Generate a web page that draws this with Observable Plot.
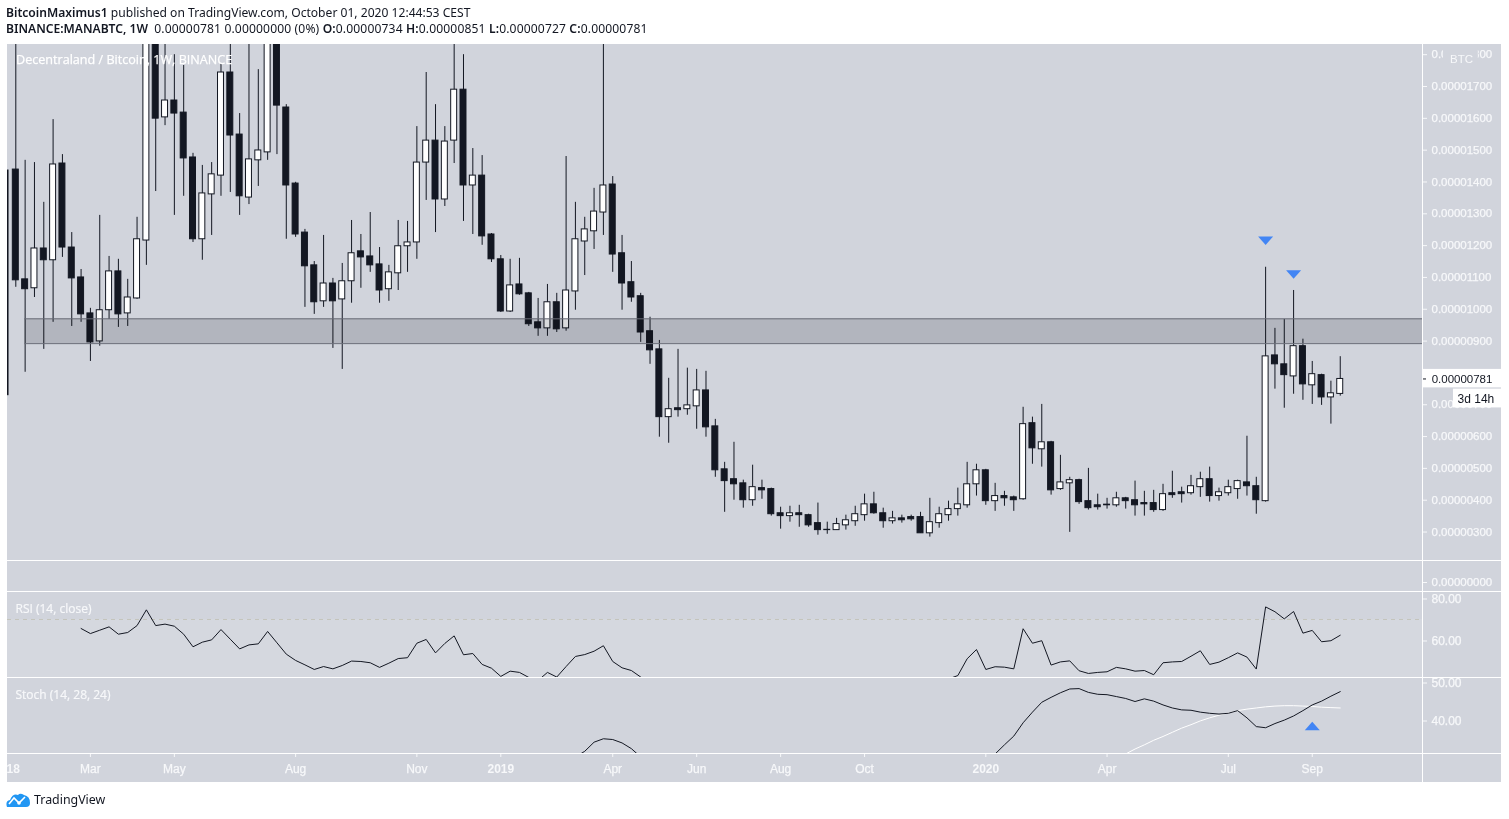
<!DOCTYPE html>
<html><head><meta charset="utf-8">
<script src="https://cdn.jsdelivr.net/npm/d3@7"></script>
<script src="https://cdn.jsdelivr.net/npm/@observablehq/plot@0.6"></script>
<style>
html,body{margin:0;padding:0;background:#fff;width:1509px;height:819px;overflow:hidden}
#hdr{position:absolute;left:6px;top:0;height:44px;font:12.1px/16px "Noto Sans",sans-serif;color:#131722;white-space:pre;padding-top:5px;box-sizing:border-box}
#hdr b{font-weight:600}
#hdr span{letter-spacing:.14px}
#chart{position:absolute;left:7px;top:44px;width:1494px;height:738px;background:#d1d4dc;overflow:hidden}
#chart svg{display:block}
.hl{position:absolute;left:0;width:1494px;height:1px;background:#fff}
.vl{position:absolute;left:1415px;top:0;width:1px;height:738px;background:#fff}
#foot{position:absolute;left:6px;top:791px;display:flex;align-items:center;gap:3px;font:12.4px "Noto Sans",sans-serif;color:#131722}
</style></head><body>
<div id="hdr"><b>BitcoinMaximus1</b> published on TradingView.com, October 01, 2020 12:44:53 CEST
<b>BINANCE:MANABTC, 1W</b>  <span>0.00000781 0.00000000 (0%) <b>O:</b>0.00000734 <b>H:</b>0.00000851 <b>L:</b>0.00000727 <b>C:</b>0.00000781</span></div>
<div id="chart"></div>
<div id="foot"><svg width="25" height="15" viewBox="0 0 25 15"><path d="M1 15 Q-1 9 4 8 Q7 1 12 3 Q14 0.5 18 3 Q24 4 24 11 Q24 15 20 15 Z" fill="#2196f3"/><path d="M3 12 L8 6 L13 11 L19 5" fill="none" stroke="#fff" stroke-width="1.6"/><circle cx="13" cy="11" r="1.8" fill="#fff"/></svg><span>TradingView</span></div>
<script>
// candle values in satoshi (1e-8 BTC), weekly, first entry is the bar clipped at the left edge
const clippedBarIndex = -1.1;
const open = [1436,1439,1094,1066,1191,1154,1458,1194,1100,987,899,997,1119,987,1034,1216,1876,1603,1656,1618,1477,1220,1361,1420,1744,1549,1351,1468,1493,1876,1634,1395,1241,1138,1025,1081,1031,1088,1182,1166,1141,1063,1113,1198,1210,1461,1530,1345,1530,1690,1389,1420,1235,1157,993,1078,1050,959,940,1022,940,1056,1213,1245,1304,1392,1176,1085,1041,931,874,661,689,686,695,745,632,497,466,453,400,438,435,359,350,359,353,328,307,306,321,334,353,387,359,334,343,347,347,296,328,353,372,384,450,494,397,413,409,403,642,560,582,435,453,463,397,384,386,384,406,400,391,391,369,422,425,422,441,466,413,422,435,456,444,397,855,827,789,884,761,793,723,734];
const high = [1436,1876,1468,1461,1336,1596,1486,1241,1125,1003,1295,1166,1157,1094,1289,1939,1939,1844,1800,1766,1490,1452,1461,1772,1907,1615,1907,1753,1907,1907,1643,1399,1251,1150,1232,1097,1144,1279,1235,1304,1194,1138,1279,1276,1574,1744,1643,1574,1876,1800,1505,1483,1238,1169,1157,1160,1053,1034,1078,1050,1480,1336,1289,1380,1907,1417,1232,1150,1050,975,902,783,874,815,811,805,654,519,582,463,510,463,438,378,381,384,356,391,331,343,353,381,419,425,375,365,353,353,362,406,378,397,438,519,513,497,453,428,413,692,661,701,585,541,472,466,500,419,406,425,409,460,428,431,450,491,441,478,488,504,438,463,463,601,472,1132,940,968,1059,906,836,796,774,851];
const low = [730,1069,802,1037,874,959,1163,946,959,836,884,968,943,946,1031,1138,1370,1577,1295,1355,1210,1154,1232,1355,1367,1295,1329,1386,1468,1486,1220,1226,1006,984,1006,877,811,1019,1066,1116,1019,1025,1059,1116,1157,1342,1241,1323,1458,1276,1235,1201,1147,990,990,1044,946,915,915,927,931,997,1106,1188,1232,1116,997,1022,896,827,598,579,661,667,623,598,472,362,400,375,381,403,350,309,331,315,315,290,293,306,306,318,334,356,312,325,328,334,296,284,312,334,350,375,413,384,365,381,365,400,513,504,416,431,299,387,369,369,372,378,372,350,350,362,365,406,391,416,409,394,397,413,403,413,356,394,749,689,733,714,701,698,639,727];
const close = [730,1091,1063,1191,1154,1455,1194,1097,984,896,997,1119,984,1037,1220,1876,1599,1656,1615,1474,1220,1364,1424,1744,1546,1355,1471,1499,1876,1640,1389,1235,1135,1022,1081,1025,1088,1176,1163,1138,1059,1116,1198,1210,1461,1530,1345,1527,1690,1389,1420,1229,1157,993,1075,1047,953,940,1022,937,1059,1220,1251,1307,1389,1172,1081,1037,927,871,661,686,683,698,745,629,494,460,450,400,441,431,356,350,359,353,321,306,306,325,337,356,387,359,334,343,337,340,296,331,356,372,387,450,494,397,413,406,400,639,563,582,431,456,463,394,375,378,384,406,397,384,387,369,419,416,419,444,466,413,425,441,460,444,400,852,827,793,884,764,796,723,736,781];

const resistanceZone = [892, 970];
const priceTicks = [300,400,500,600,700,800,900,1000,1100,1200,1300,1400,1500,1600,1700,1800];
const lastPrice = 781;

// RSI, visible stretches (start index given)
const rsiA0 = 7;
const rsiA = [65.7,63.3,64.9,66.5,63.0,63.8,67.1,74.6,67.1,67.8,66.8,63.0,57.0,59.2,60.3,65.2,60.6,56.0,57.9,58.4,64.3,58.9,53.5,50.5,48.4,46.2,47.6,46.5,48.1,50.2,50.0,49.4,47.2,49.2,51.4,51.8,58.7,60.5,54.1,58.6,62.2,53.2,53.8,48.6,46.8,42.9,45.4,44.8,42.4,41.0,44.8,42.6,47.6,52.4,53.3,54.9,57.5,50.0,47.0,45.7,42.6,39.4];
const rsiB0 = 100;
const rsiB = [41.7,43.3,51.3,55.7,46.2,47.5,47.3,46.5,65.6,58.7,59.9,48.3,49.8,50.3,45.6,44.3,44.8,45.1,47.2,46.5,45.4,45.7,43.7,49.4,49.8,50.0,52.5,55.1,48.6,49.7,51.8,54.1,52.1,46.4,76.0,73.7,70.3,73.8,63.5,64.8,59.4,59.9,62.5];
// Stoch %K and %D, visible stretches
const kA0 = 60;
const kA = [30.4,31.9,34.3,35.2,35.0,34.1,32.6,30.4];
const kB0 = 104;
const kB = [29.0,31.2,33.6,35.9,39.4,42.2,44.8,46.1,47.3,48.3,48.4,47.4,46.9,46.8,46.3,45.8,45.0,45.7,45.1,44.1,43.3,42.8,42.7,42.2,41.9,41.7,41.9,42.6,40.7,38.4,38.1,39.2,40.1,41.2,42.6,44.1,45.1,46.4,47.6];
const d0 = 118;
const dLine = [30.0,31.2,32.5,33.6,34.8,35.8,36.9,38.0,38.9,39.9,40.7,41.4,42.0,42.6,43.0,43.3,43.6,43.8,43.9,43.9,43.8,43.7,43.5,43.4,43.3];

// Annotation arrows
const downMarks = [{i:134,p:1216},{i:137,p:1110}];
const upMarks = [{i:139,v:38.5}];

// Time axis
const monthTicks = [8,17,30,43,64,73,82,91,117,130,139];
const monthLabels = ["Mar","May","Aug","Nov","Apr","Jun","Aug","Oct","Apr","Jul","Sep"];
const yearTicks = [-1,52,104];
const yearLabels = ["2018","2019","2020"];

const ink = "#131722", bg = "#d1d4dc", lbl = "#f7f8fa", blue = "#4285f4";
const fontAxis = '"Liberation Sans",sans-serif';
const xDomain = [-0.89, 150.82];
const W = 1494, MR = 79;
const commonStyle = {background:"transparent", fontFamily:fontAxis, fontSize:"11.5px", overflow:"hidden"};
const common = {width:W, marginLeft:0, marginRight:MR, marginTop:0, marginBottom:0,
  x:{type:"linear", domain:xDomain, axis:null}, style:commonStyle};
const axisLook = {anchor:"right",tickSize:4,tickPadding:5,color:lbl,label:null,textStroke:lbl,textStrokeWidth:0.25};

const candles = open.map((o,k)=>({i:k===0?clippedBarIndex:k-1,o,h:high[k],l:low[k],c:close[k]}));
const up = candles.filter(d=>d.c>=d.o), down = candles.filter(d=>d.c<d.o);
const HW = 0.32;
const seg = (start,arr)=>arr.map((v,k)=>({i:start+k,v}));

const flatTri = dir=>({draw(ctx,size){const r=Math.sqrt(size/Math.PI);
  ctx.moveTo(-r,-dir*r*0.53);ctx.lineTo(r,-dir*r*0.53);ctx.lineTo(0,dir*r*0.6);ctx.closePath();}});

const fmt8 = d=>(d*1e-8).toFixed(8);
const chart = document.getElementById("chart");

chart.append(Plot.plot({...common, height:517,
  y:{domain:[207.4,1832], range:[517,0], axis:null},
  marks:[
    Plot.frame({fill:bg,stroke:"none"}),
    Plot.axisY({...axisLook,ticks:priceTicks,tickFormat:fmt8}),
    Plot.ruleX(candles,{x:"i",y1:"l",y2:"h",stroke:ink,strokeWidth:1,clip:true}),
    Plot.rect(down,{x1:d=>d.i-HW,x2:d=>d.i+HW,y1:"o",y2:"c",fill:ink,stroke:ink,strokeWidth:1,clip:true}),
    Plot.rect(up,{x1:d=>d.i-HW,x2:d=>d.i+HW,y1:"o",y2:"c",fill:"#fff",stroke:ink,strokeWidth:1,clip:true}),
    Plot.rect([resistanceZone],{x1:0.97,x2:xDomain[1],y1:d=>d[0],y2:d=>d[1],fill:"#d9dadc",mixBlendMode:"multiply"}),
    Plot.ruleY(resistanceZone,{x1:0.97,x2:xDomain[1],stroke:"#6a6d78",strokeWidth:1}),
    Plot.dot(downMarks,{x:"i",y:"p",r:7.5,fill:blue,stroke:"none",symbol:flatTri(1)}),
    Plot.text(["Decentraland / Bitcoin, 1W, BINANCE"],{frameAnchor:"top-left",dx:8.5,dy:10.5,fill:"#fff",stroke:"#fff",strokeWidth:0.25,fontSize:12.6,fontFamily:'"Open Sans",sans-serif'}),
    Plot.rect([0],{x1:153.07,x2:156.8,y1:1766,y2:1832,fill:bg}),
    Plot.text(["BTC"],{x:155,y:1785,fill:lbl,fontSize:11.5}),
    Plot.rect([lastPrice],{x1:xDomain[1],x2:159.29,y1:d=>d+30,y2:d=>d-28,fill:"#fff"}),
    Plot.text([lastPrice],{x:151.8,y:d=>d,text:fmt8,textAnchor:"start",fill:ink,fontSize:11.5}),
    Plot.rect([lastPrice],{x1:154.14,x2:159.29,y1:d=>d-32,y2:d=>d-91,fill:"#fff"}),
    Plot.text(["3d 14h"],{x:154.58,y:lastPrice-62,textAnchor:"start",fill:ink,fontSize:12}),
    Plot.ruleY([lastPrice],{x1:xDomain[1],x2:151.25,stroke:ink})
  ]}));

chart.append(Plot.plot({...common, height:30,
  y:{domain:[-9,21], range:[30,0], axis:null},
  marks:[Plot.axisY({...axisLook,ticks:[0],tickFormat:fmt8})]}));

chart.append(Plot.plot({...common, height:86,
  y:{domain:[42.38,83.33], range:[86,0], axis:null},
  marks:[
    Plot.rect([0],{x1:xDomain[0],x2:xDomain[1],y1:42.38,y2:70,fill:"#fff",fillOpacity:0.1}),
    Plot.ruleY([70],{stroke:"#c4c4bc",strokeDasharray:"4 4",strokeWidth:1}),
    Plot.axisY({...axisLook,ticks:[60,80],tickFormat:d=>d.toFixed(2),fontSize:12,dy:0.5}),
    Plot.line(seg(rsiA0,rsiA),{x:"i",y:"v",stroke:ink,strokeWidth:1,clip:true}),
    Plot.line(seg(rsiB0,rsiB),{x:"i",y:"v",stroke:ink,strokeWidth:1,clip:true}),
    Plot.text(["RSI (14, close)"],{frameAnchor:"top-left",dx:8,dy:12.5,fill:lbl,stroke:lbl,strokeWidth:0.2,fontSize:12,fontFamily:'"Open Sans",sans-serif'})
  ]}));

chart.append(Plot.plot({...common, height:76,
  y:{domain:[31.32,51.32], range:[76,0], axis:null},
  marks:[
    Plot.axisY({...axisLook,ticks:[40,50],tickFormat:d=>d.toFixed(2),fontSize:12,dy:0.5}),
    Plot.line(seg(d0,dLine),{x:"i",y:"v",stroke:"#fff",strokeWidth:1,clip:true}),
    Plot.line(seg(kA0,kA),{x:"i",y:"v",stroke:ink,strokeWidth:1,clip:true}),
    Plot.line(seg(kB0,kB),{x:"i",y:"v",stroke:ink,strokeWidth:1,clip:true}),
    Plot.dot(upMarks,{x:"i",y:"v",r:7.5,fill:blue,stroke:"none",symbol:flatTri(-1)}),
    Plot.text(["Stoch (14, 28, 24)"],{frameAnchor:"top-left",dx:8,dy:13,fill:lbl,stroke:lbl,strokeWidth:0.2,fontSize:12,fontFamily:'"Open Sans",sans-serif'})
  ]}));

chart.append(Plot.plot({...common, height:29, marginTop:0, marginBottom:28,
  marks:[
    Plot.axisX({anchor:"bottom",ticks:monthTicks,tickFormat:d=>monthLabels[monthTicks.indexOf(d)],tickSize:3,tickPadding:7,color:lbl,label:null,fontSize:12,textStroke:lbl,textStrokeWidth:0.25}),
    Plot.axisX({anchor:"bottom",ticks:yearTicks,tickFormat:d=>yearLabels[yearTicks.indexOf(d)],tickSize:3,tickPadding:7,color:lbl,label:null,fontSize:12,fontWeight:"bold"})
  ]}));

for (const t of [516,547,633,709]) { const l=document.createElement("div"); l.className="hl"; l.style.top=t+"px"; chart.append(l); }
const v=document.createElement("div"); v.className="vl"; chart.append(v);
</script>
</body></html>
